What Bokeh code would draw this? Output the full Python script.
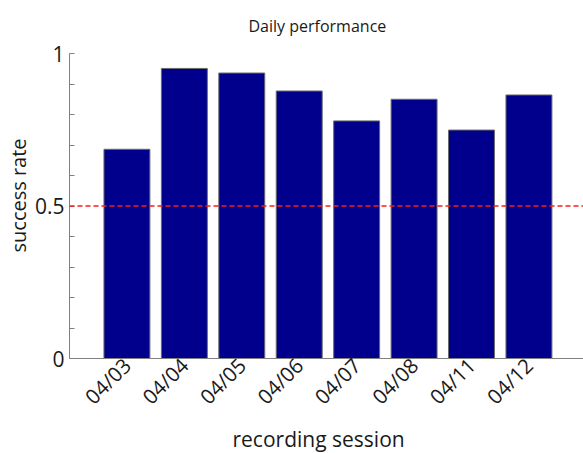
import math
from bokeh.plotting import figure
from bokeh.models import Range1d, FixedTicker, Span, Title
from bokeh.embed import file_html
from bokeh.resources import INLINE

sessions = ["04/03", "04/04", "04/05", "04/06", "04/07", "04/08", "04/11", "04/12"]
success_rate = [0.686, 0.951, 0.936, 0.877, 0.779, 0.850, 0.749, 0.864]
chance_level = 0.5
y_major = [0, 0.5, 1]
y_minor = [0.1, 0.2, 0.3, 0.4, 0.6, 0.7, 0.8, 0.9]

FONT = "Open Sans"
TXT = "#1a1a1a"
positions = list(range(1, len(sessions) + 1))

p = figure(width=583, height=453, output_backend="svg", toolbar_location=None,
           x_range=Range1d(0, 8.95), y_range=Range1d(0, 1),
           min_border_left=69, min_border_right=0, min_border_top=53,
           min_border_bottom=95)
p.outline_line_color = None
p.xgrid.visible = False
p.ygrid.visible = False

p.vbar(x=positions, top=success_rate, width=0.8, bottom=0,
       fill_color="#00008C", line_color="#6b6b6b", line_width=1)

p.add_layout(Span(location=chance_level, dimension="width", line_color="#ff1a1a",
                  line_dash="5 3", line_width=1.5))

# x axis
p.xaxis.ticker = FixedTicker(ticks=positions)
p.xaxis.major_label_overrides = {pos: s for pos, s in zip(positions, sessions)}
p.xaxis.major_label_orientation = math.pi / 4
p.xaxis.major_tick_in = 0
p.xaxis.major_tick_out = 0
p.xaxis.minor_tick_in = 0
p.xaxis.minor_tick_out = 0
p.xaxis.axis_line_color = "#808080"
p.xaxis.major_label_text_font = FONT
p.xaxis.major_label_text_font_size = "20.5px"
p.xaxis.major_label_text_color = TXT
p.xaxis.major_label_standoff = 3

# y axis
p.yaxis.ticker = FixedTicker(ticks=y_major, minor_ticks=y_minor)
p.yaxis.major_label_overrides = {0: "0", 0.5: "0.5", 1: "1"}
p.yaxis.major_tick_in = 5
p.yaxis.major_tick_out = 0
p.yaxis.minor_tick_in = 5
p.yaxis.minor_tick_out = 0
p.yaxis.axis_line_color = "#808080"
p.yaxis.major_tick_line_color = "#808080"
p.yaxis.minor_tick_line_color = "#808080"
p.yaxis.major_label_text_font = FONT
p.yaxis.major_label_text_font_size = "21px"
p.yaxis.major_label_text_color = TXT
p.yaxis.major_label_standoff = 5

# titles
p.add_layout(Title(text="Daily performance", align="left", offset=179,
                   vertical_align="top",
                   text_font=FONT, text_font_size="16px", text_font_style="normal",
                   text_color=TXT, standoff=29), "above")
p.add_layout(Title(text="recording session", align="left", offset=163,
                   text_font=FONT, text_font_size="21px", text_font_style="normal",
                   text_color=TXT, standoff=0), "below")
p.add_layout(Title(text="success rate", align="left", offset=106,
                   text_font=FONT, text_font_size="20px", text_font_style="normal",
                   text_color=TXT, standoff=0), "left")

open("out.html", "w").write(file_html(p, INLINE))
